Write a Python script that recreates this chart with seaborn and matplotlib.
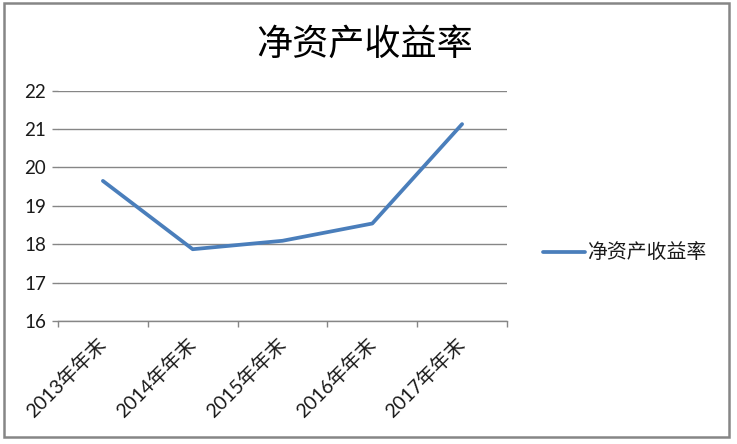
import matplotlib
matplotlib.use("Agg")
import matplotlib.pyplot as plt
import seaborn as sns
import pandas as pd
from matplotlib.patches import Rectangle

categories = ["2013年年末", "2014年年末", "2015年年末", "2016年年末", "2017年年末"]
roe_values = [19.65, 17.87, 18.09, 18.54, 21.13]
series_name = "净资产收益率"
title_text = "净资产收益率"
y_ticks = [16, 17, 18, 19, 20, 21, 22]

sns.set_theme(style="white")
plt.rcParams['font.family'] = ['Lato', 'Noto Sans CJK SC', 'DejaVu Sans']

df = pd.DataFrame({"year": categories, "value": roe_values, "series": series_name})

fig = plt.figure(figsize=(7.37, 4.44), dpi=100)
ax = fig.add_axes([58/737, 1-321/444, (507-58)/737, (321-90.7)/444])

sns.lineplot(data=df, x="year", y="value", hue="series", palette=["#4A7EBB"],
             linewidth=2.7, ax=ax, sort=False, legend=True)

ax.set_ylim(16, 22)
ax.set_xlim(-0.5, len(categories) - 0.5)
ax.set_yticks(y_ticks)
ax.set_yticklabels([str(t) for t in y_ticks], fontsize=13.5, color="#1a1a1a")
ax.grid(axis="y", color="#868686", linewidth=1.0)
ax.grid(axis="x", visible=False)
ax.set_axisbelow(True)
for s in ["top", "right", "left"]:
    ax.spines[s].set_visible(False)
ax.spines["bottom"].set_color("#868686")
ax.spines["bottom"].set_linewidth(1.0)
ax.tick_params(axis="y", which="major", length=4.5, width=1.0, color="#868686",
               direction="out", pad=4, left=True)
ax.set_xticks(range(len(categories)))
ax.set_xticklabels(categories, rotation=45, ha="right", va="center",
                   rotation_mode="anchor", fontsize=14, color="#1a1a1a")
ax.tick_params(axis="x", which="major", length=0, pad=14)
ax.set_xticks([i - 0.5 for i in range(len(categories) + 1)], minor=True)
ax.tick_params(axis="x", which="minor", length=4.5, width=1.0, color="#868686",
               direction="out", bottom=True)
ax.set_xlabel("")
ax.set_ylabel("")

leg = ax.legend(loc="center left", bbox_to_anchor=(543/737, 1-252/444),
                bbox_transform=fig.transFigure, frameon=False, fontsize=14.3,
                handlelength=2.1, handletextpad=0.1, borderpad=0, borderaxespad=0)
for t in leg.get_texts():
    t.set_color("#1a1a1a")
for l in leg.get_lines():
    l.set_linewidth(2.7)

fig.text(365/737, 1-44/444, title_text, ha="center", va="center", fontsize=26,
         color="#000000")

fig.patches.append(Rectangle((4/737, 1-437/444), (729-4)/737, (437-3)/444,
                             transform=fig.transFigure, fill=False,
                             edgecolor="#868686", linewidth=1.8))

fig.savefig("out.png", dpi=100)
